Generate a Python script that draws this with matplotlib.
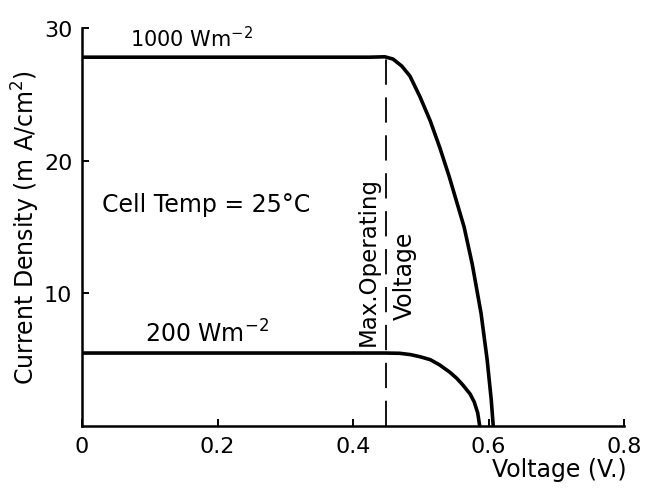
import matplotlib
matplotlib.use("Agg")
import matplotlib.pyplot as plt

# Data
v_1000 = [0.0, 0.425, 0.447, 0.459, 0.472, 0.484, 0.499, 0.514, 0.528, 0.542, 0.553,
          0.564, 0.576, 0.589, 0.598, 0.604, 0.607]
i_1000 = [27.8, 27.8, 27.83, 27.66, 27.13, 26.38, 24.8, 23.0, 21.0, 18.8, 16.9,
          15.0, 12.2, 8.5, 5.0, 2.0, 0.0]

v_200 = [0.0, 0.447, 0.469, 0.485, 0.499, 0.514, 0.528, 0.543, 0.553, 0.562, 0.573, 0.579, 0.584, 0.587]
i_200 = [5.5, 5.5, 5.48, 5.38, 5.22, 5.0, 4.6, 4.05, 3.6, 3.1, 2.4, 1.8, 1.0, 0.0]

v_max_op = 0.448
x_ticks = [0.0, 0.2, 0.4, 0.6, 0.8]
x_tick_labels = ["0", "0.2", "0.4", "0.6", "0.8"]
y_ticks = [10, 20, 30]
y_tick_labels = ["10", "20", "30"]

plt.rcParams['font.family'] = ['DejaVu Sans']
plt.rcParams['mathtext.default'] = 'regular'

fig = plt.figure(figsize=(6.5, 4.89), dpi=100)
ax = fig.add_axes([82/650, 62/489, 542/650, 398/489])

ax.plot(v_1000, i_1000, color='black', lw=2.6, solid_capstyle='round', solid_joinstyle='round')
ax.plot(v_200, i_200, color='black', lw=2.6, solid_capstyle='round', solid_joinstyle='round')
ax.plot([v_max_op, v_max_op], [0, 27.8], color='black', lw=1.3, dashes=(14, 7))

ax.set_xlim(0, 0.8)
ax.set_ylim(0, 30)
for s in ['top', 'right']:
    ax.spines[s].set_visible(False)
for s in ['left', 'bottom']:
    ax.spines[s].set_linewidth(1.8)

ax.set_xticks(x_ticks)
ax.set_xticklabels(x_tick_labels, fontsize=16)
ax.set_yticks(y_ticks)
ax.set_yticklabels(y_tick_labels, fontsize=16)
ax.tick_params(direction='in', length=5, width=1.4, pad=7)

ax.text(0.162, 28.3, "1000 Wm$^{-2}$", ha='center', va='bottom', fontsize=15)
ax.text(0.184, 5.95, "200 Wm$^{-2}$", ha='center', va='bottom', fontsize=17)
ax.text(0.03, 16.7, "Cell Temp = 25\u00b0C", ha='left', va='center', fontsize=17)
ax.text(0.422, 12.5, "Max.Operating", rotation=90, ha='center', va='center', fontsize=16.5)
ax.text(0.477, 11.4, "Voltage", rotation=90, ha='center', va='center', fontsize=17)

ax.text((559-82)/542, -(470-427)/398, "Voltage (V.)", transform=ax.transAxes,
        ha='center', va='center', fontsize=17)
ax.text((26-82)/542, 0.5, "Current Density (m A/cm$^2$)", transform=ax.transAxes,
        rotation=90, ha='center', va='center', fontsize=17)

fig.savefig("out.png", dpi=100)
